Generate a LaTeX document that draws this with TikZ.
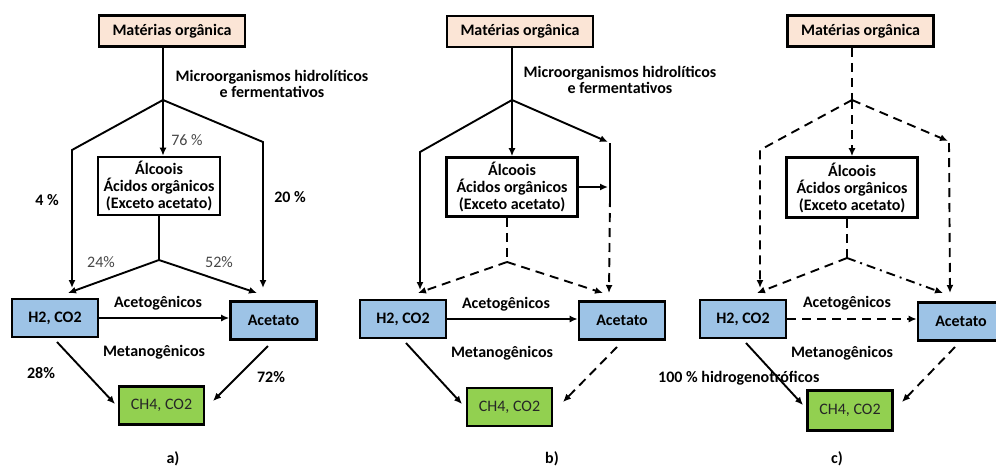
\documentclass[tikz,border=0pt]{standalone}
\usepackage{fontspec}
\setmainfont{Carlito}
\usetikzlibrary{arrows.meta}

\definecolor{orgfill}{RGB}{251,229,214}
\definecolor{bluefill}{RGB}{157,195,230}
\definecolor{greenfill}{RGB}{146,208,80}
\definecolor{pctgray}{RGB}{70,70,70}

\begin{document}
\begin{tikzpicture}[x=1pt,y=-1pt,
  font=\fontsize{16}{16}\selectfont,
  box/.style={draw=black,line width=2.6pt,inner sep=0pt,
    font=\bfseries\fontsize{16}{17}\selectfont,align=center},
  orgbox/.style={box,fill=orgfill,minimum width=146pt,minimum height=31pt},
  midbox/.style={box,fill=white},
  bluebox/.style={box,fill=bluefill,minimum width=86pt,minimum height=38pt},
  greenbox/.style={box,fill=greenfill,minimum width=85pt,minimum height=38pt,
    font=\fontsize{16}{17}\selectfont,text=black!85},
  link/.style={line width=1.9pt},
  arr/.style={link,-{Latex[length=8pt,width=7pt]}},
  dsh/.style={dash pattern=on 9pt off 6pt},
  dshdot/.style={dash pattern=on 9pt off 5pt on 2pt off 5pt},
  lbl/.style={font=\bfseries\fontsize{16}{16}\selectfont,inner sep=0pt},
  pct/.style={font=\fontsize{16}{16}\selectfont,text=pctgray,inner sep=0pt},
  steps/.style={lbl,align=center},
]
\useasboundingbox (0,0) rectangle (996,469);

% ---------------- a) ----------------
\node[orgbox] (ma) at (172,31) {Matérias orgânica};
\node[midbox,minimum width=122pt,minimum height=58pt] (alca) at (159,186)
  {Álcoois\\Ácidos orgânicos\\(Exceto acetato)};
\node[bluebox] (h2a) at (55,318) {H2, CO2};
\node[bluebox] (aca) at (273.5,320.5) {Acetato};
\node[greenbox] (cha) at (161.5,405.5) {CH4, CO2};

\coordinate (sa) at (163,100);
\coordinate (la) at (72,150);
\coordinate (ra) at (263,142);
\coordinate (ja) at (159,260);
\coordinate (ta1) at (68,293);
\coordinate (ta2) at (257,293);
\coordinate (qa1) at (57,342);
\coordinate (qa2) at (115,404);
\coordinate (pa1) at (268,346);
\coordinate (pa2) at (213,401);

\draw[link] (ma.south -| sa) -- (sa);
\draw[arr] (sa) -- (alca.north -| sa);
\draw[arr] (sa) -- (la) -- (72,288);
\draw[arr] (sa) -- (ra) -- (263,288);
\draw[link] (alca.south) -- (ja);
\draw[arr] (ja) -- (ta1);
\draw[arr] (ja) -- (ta2);
\draw[arr] (h2a.east) -- (h2a.east -| aca.west);
\draw[arr] (qa1) -- (qa2);
\draw[arr] (pa1) -- (pa2);

\node[steps] (mica) at (272,84) {Microorganismos hidrolíticos\\e fermentativos};
\node[pct] (p76) at (187,140) {76 \%};
\node[lbl] (p4) at (47,200) {4 \%};
\node[lbl] (p20) at (290,197) {20 \%};
\node[pct] (p24) at (101,262) {24\%};
\node[pct] (p52) at (219,262) {52\%};
\node[lbl] (aceta) at (158,303) {Acetogênicos};
\node[lbl] (meta) at (154,352) {Metanogênicos};
\node[lbl] (p28) at (41,373) {28\%};
\node[lbl] (p72) at (271,377) {72\%};
\node[lbl] (capa) at (173,459) {a)};

% ---------------- b) ----------------
\node[orgbox] (mb) at (520,31.5) {Matérias orgânica};
\node[midbox,minimum width=131pt,minimum height=59pt] (alcb) at (512,187)
  {Álcoois\\Ácidos orgânicos\\(Exceto acetato)};
\node[bluebox] (h2b) at (403,319) {H2, CO2};
\node[bluebox] (acb) at (622,320.5) {Acetato};
\node[greenbox] (chb) at (509.5,407) {CH4, CO2};

\coordinate (sb) at (512,100);
\coordinate (lb) at (420,152);
\coordinate (rb) at (608,142);
\coordinate (rbv) at (610,143);
\coordinate (rbm) at (610,198);
\coordinate (rbe) at (609,293);
\coordinate (jb) at (507,262);
\coordinate (tb1) at (418,293);
\coordinate (tb2) at (603,293);
\coordinate (qb1) at (406,343);
\coordinate (qb2) at (462,404);
\coordinate (pb1) at (617,347);
\coordinate (pb2) at (563,402);

\draw[link] (mb.south -| sb) -- (sb);
\draw[arr] (sb) -- (alcb.north);
\draw[arr] (sb) -- (lb) -- (420,290);
\draw[arr] (sb) -- (rb);
\draw[link] (rbv) -- (rbm);
\draw[arr,dsh] (rbm) -- (rbe);
\draw[arr] (alcb.east) -- (alcb.east -| rb);
\draw[link,dsh] (alcb.south -| jb) -- (jb);
\draw[arr,dsh] (jb) -- (tb1);
\draw[arr,dsh] (jb) -- (tb2);
\draw[arr] (h2b.east) -- (h2b.east -| acb.west);
\draw[arr] (qb1) -- (qb2);
\draw[arr,dsh] (pb1) -- (pb2);

\node[steps] (micb) at (620,80) {Microorganismos hidrolíticos\\e fermentativos};
\node[lbl] (acetb) at (506,304) {Acetogênicos};
\node[lbl] (metb) at (502,353) {Metanogênicos};
\node[lbl] (capb) at (552,459) {b)};

% ---------------- c) ----------------
\node[orgbox] (mc) at (860.5,31) {Matérias orgânica};
\node[midbox,minimum width=131pt,minimum height=60pt] (alcc) at (852,187.5)
  {Álcoois\\Ácidos orgânicos\\(Exceto acetato)};
\node[bluebox] (h2c) at (743,319) {H2, CO2};
\node[bluebox] (acc) at (961,321.5) {Acetato};
\node[greenbox,minimum height=40pt] (chc) at (850,410.5) {CH4, CO2};

\coordinate (sc) at (852,100);
\coordinate (lc) at (760,150);
\coordinate (rc) at (948,141);
\coordinate (rcv) at (949,143);
\coordinate (rce) at (950,293);
\coordinate (jc) at (847,258);
\coordinate (tc1) at (757,293);
\coordinate (tc2) at (943,293);
\coordinate (qc1) at (746,343);
\coordinate (qc2) at (803,405);
\coordinate (pc1) at (955,347);
\coordinate (pc2) at (902,402);

\draw[link,dsh] (mc.south -| sc) -- (sc);
\draw[arr,dsh] (sc) -- (alcc.north -| sc);
\draw[arr,dsh] (sc) -- (lc) -- (760,288);
\draw[arr,dsh] (sc) -- (rc);
\draw[arr,dsh] (rcv) -- (rce);
\draw[link,dsh] (alcc.south -| jc) -- (jc);
\draw[arr,dsh] (jc) -- (tc1);
\draw[arr,dshdot] (jc) -- (tc2);
\draw[arr,dsh] (h2c.east) -- (h2c.east -| acc.west);
\draw[arr] (qc1) -- (qc2);
\draw[arr,dsh] (pc1) -- (pc2);

\node[lbl] (acetc) at (847,303) {Acetogênicos};
\node[lbl] (metc) at (842,353) {Metanogênicos};
\node[lbl,anchor=west] (hidc) at (658,378) {100 \% hidrogenotróficos};
\node[lbl] (capc) at (837,459) {c)};
\end{tikzpicture}
\end{document}
